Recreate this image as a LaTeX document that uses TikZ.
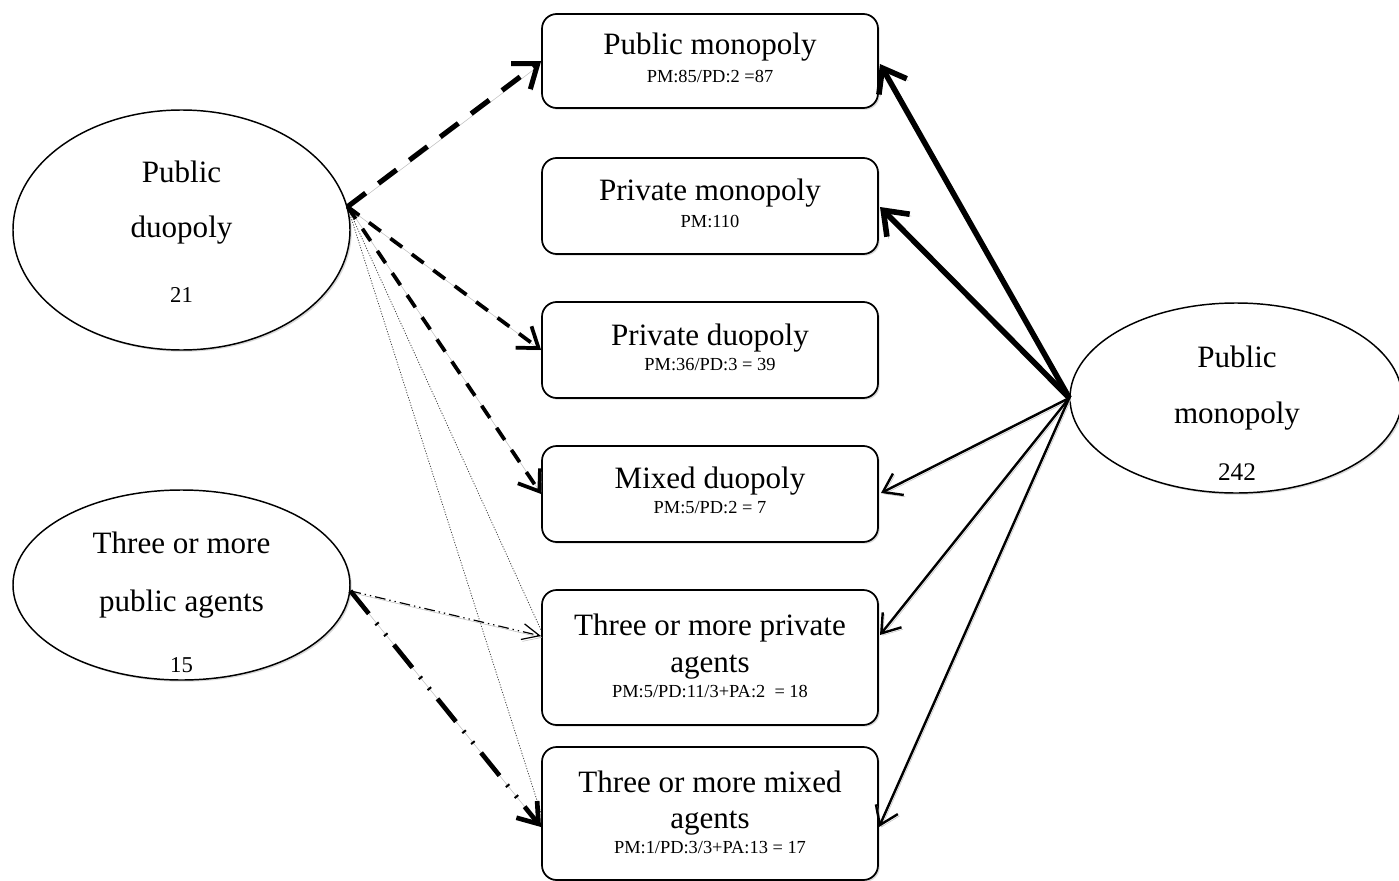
\documentclass[tikz,border=0pt]{standalone}
\usepackage{fontspec}
\setmainfont{Liberation Serif}
\usetikzlibrary{shapes.geometric,arrows.meta,shadows}
\begin{document}
\begin{tikzpicture}[x=0.75pt,y=-0.75pt,
  box/.style={draw, line width=1.3pt, rounded corners=11pt, fill=white, minimum width=252pt, inner sep=0pt,
    drop shadow={shadow xshift=1.3pt,shadow yshift=-1.3pt,fill=black!30}},
  oval/.style={ellipse, draw, line width=1.1pt, fill=white, inner sep=0pt,
    drop shadow={shadow xshift=1.3pt,shadow yshift=-1.3pt,fill=black!30}},
  big/.style={font=\fontsize{23.3}{28}\selectfont, inner sep=0pt, anchor=base},
  small/.style={font=\fontsize{13.8}{16}\selectfont, inner sep=0pt, anchor=base},
  num/.style={font=\fontsize{17}{20}\selectfont, inner sep=0pt, anchor=base},
  lshadow/.style={preaction={draw=black!25, transform canvas={shift={(1.2pt,-1.4pt)}}}},
  thickdash/.style={line width=3.8pt, dash pattern=on 17pt off 12pt, -{Straight Barb[length=16pt,width=24pt]}},
  meddash/.style={line width=2.8pt, dash pattern=on 11pt off 9pt, -{Straight Barb[length=14pt,width=20pt]}},
  dotline/.style={line width=0.6pt, draw=black!75, dash pattern=on 0.8pt off 1.2pt},
  thindashdot/.style={line width=0.9pt, dash pattern=on 8pt off 3pt on 1pt off 3pt on 1pt off 3pt, -{Straight Barb[length=13pt,width=12pt]}},
  thickdashdotdot/.style={line width=3.5pt, dash pattern=on 22pt off 9pt on 1.5pt off 9pt on 1.5pt off 9pt, -{Straight Barb[length=14pt,width=20pt]}},
  thicksolid/.style={line width=4.2pt, -{Straight Barb[length=16pt,width=24pt]}},
  thinsolid/.style={line width=1.8pt, -{Straight Barb[length=13pt,width=18pt]}}
]
\path[use as bounding box] (0,0) rectangle (1399,881);

% boxes
\node[box, minimum height=70.5pt] (b1) at (710,61) {};
\node[box, minimum height=72pt] (b2) at (710,206) {};
\node[box, minimum height=72pt] (b3) at (710,350) {};
\node[box, minimum height=72pt] (b4) at (710,494) {};
\node[box, minimum height=101.25pt] (b5) at (710,657.5) {};
\node[box, minimum height=99.75pt] (b6) at (710,813.5) {};

\node[big] (t1) at (710,55) {Public monopoly};
\node[small] (s1) at (710,83) {PM:85/PD:2 =87};
\node[big] (t2) at (710,200) {Private monopoly};
\node[small] (s2) at (710,227) {PM:110};
\node[big] (t3) at (710,345) {Private duopoly};
\node[small] (s3) at (710,370) {PM:36/PD:3 = 39};
\node[big] (t4) at (710,488) {Mixed duopoly};
\node[small] (s4) at (710,513) {PM:5/PD:2 = 7};
\node[big] (t5a) at (710,635) {Three or more private};
\node[big] (t5b) at (710,672) {agents};
\node[small] (s5) at (710,697) {PM:5/PD:11/3+PA:2\ \ = 18};
\node[big] (t6a) at (710,792) {Three or more mixed};
\node[big] (t6b) at (710,828) {agents};
\node[small] (s6) at (710,853) {PM:1/PD:3/3+PA:13 = 17};

% ellipses
\node[oval, minimum width=252.75pt, minimum height=180pt] (e1) at (181.5,230) {};
\node[oval, minimum width=252.75pt, minimum height=142.5pt] (e2) at (181.5,585) {};
\node[oval, minimum width=249pt, minimum height=142.5pt] (e3) at (1236,398) {};

\node[big] (e1a) at (181.5,182) {Public};
\node[big] (e1b) at (181.5,237) {duopoly};
\node[num] (e1c) at (181.5,302) {21};
\node[big] (e2a) at (181.5,553) {Three or more};
\node[big] (e2b) at (181.5,611) {public agents};
\node[num] (e2c) at (181.5,672) {15};
\node[big] (e3a) at (1237,367) {Public};
\node[big] (e3b) at (1237,423) {monopoly};
\node[num, font=\fontsize{19}{22}\selectfont] (e3c) at (1237,480) {242};

% arrow end points
\coordinate (c5d) at (541,630);
\coordinate (c5L) at (541,636);
\coordinate (c6L) at (541,827);
\coordinate (c1R) at (880,64);
\coordinate (c2R) at (880,207);
\coordinate (c4R) at (881,493);
\coordinate (c5R) at (880,635);
\coordinate (c6R) at (879,827);

% from public duopoly
\draw[dotline] (e1.8) -- (c5d);
\draw[dotline] (e1.8) -- (b6.west);
\draw[thickdash, lshadow] (e1.8) -- (b1.west);
\draw[meddash, lshadow] (e1.8) -- (b3.west);
\draw[meddash, lshadow] (e1.8) -- (b4.west);

% from three or more public agents
\draw[thindashdot, lshadow] (e2.-2) -- (c5L);
\draw[thickdashdotdot, lshadow] (e2.-2) -- (c6L);

% from public monopoly
\draw[thicksolid, lshadow] (e3.west) -- (c1R);
\draw[thicksolid, lshadow] (e3.west) -- (c2R);
\draw[thinsolid, lshadow] (e3.west) -- (c4R);
\draw[thinsolid, lshadow] (e3.west) -- (c5R);
\draw[thinsolid, lshadow] (e3.west) -- (c6R);
\end{tikzpicture}
\end{document}
